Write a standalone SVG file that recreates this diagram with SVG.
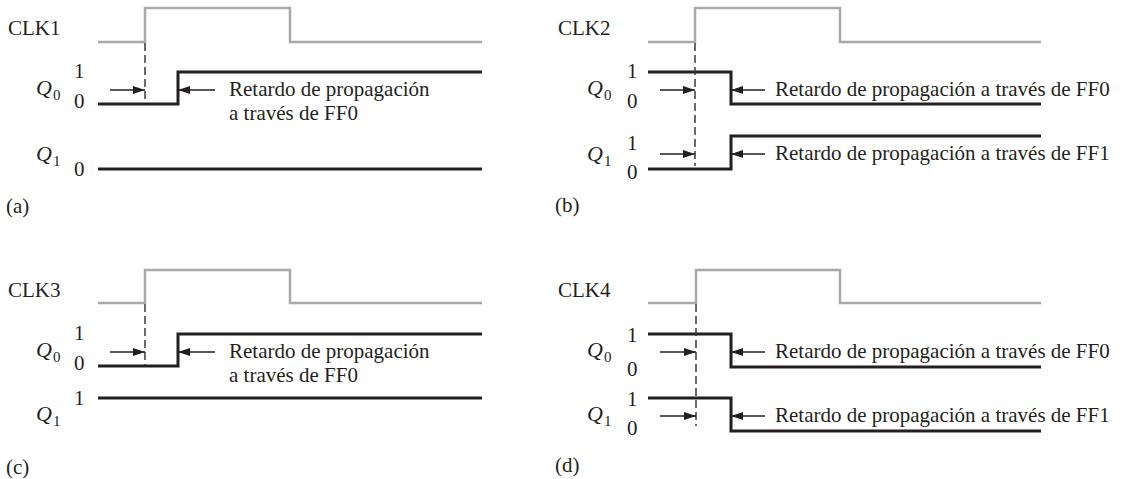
<svg xmlns="http://www.w3.org/2000/svg" width="1123" height="479" viewBox="0 0 1123 479">
<defs>
<marker id="ah" viewBox="0 0 12 8" refX="12" refY="4" markerWidth="12" markerHeight="8" markerUnits="userSpaceOnUse" orient="auto" preserveAspectRatio="none">
<path d="M0,0 L12,4 L0,8 Z" fill="#231f20"/>
</marker>
</defs>
<style>
text{font-family:"Liberation Serif","Times New Roman",serif;font-size:21px;fill:#231f20}
.q{font-style:italic;font-size:22px}
.sub{font-size:15px;font-style:normal}
.clk{fill:none;stroke:#a7a9ac;stroke-width:2.5}
.sig{fill:none;stroke:#231f20;stroke-width:3}
.dash{fill:none;stroke:#3a3a3a;stroke-width:1.5;stroke-dasharray:8 4}
.arr{fill:none;stroke:#231f20;stroke-width:1.5;marker-end:url(#ah)}
</style>
<rect width="1123" height="479" fill="#ffffff"/>

<g id="panel-a">
<text x="8" y="35">CLK1</text>
<path class="clk" d="M98,42 H145 V8 H290 V42 H482"/>
<text class="q" x="36" y="95">Q</text><text class="sub" x="53" y="100">0</text>
<text x="74" y="78">1</text><text x="74" y="108">0</text>
<path class="sig" d="M98,104 H178 V72 H482"/>
<text x="229" y="96">Retardo de propagación</text>
<text x="229" y="120">a través de FF0</text>
<text class="q" x="36" y="161">Q</text><text class="sub" x="53" y="166">1</text>
<text x="74" y="176">0</text>
<path class="sig" d="M98,169 H482"/>
<text x="6" y="213">(a)</text>
</g>

<g id="panel-b">
<text x="558" y="35">CLK2</text>
<path class="clk" d="M648,42 H695 V8 H840 V42 H1041"/>
<text class="q" x="587" y="95">Q</text><text class="sub" x="604" y="100">0</text>
<text x="627" y="78">1</text><text x="627" y="108">0</text>
<path class="sig" d="M648,72 H731 V104 H1041"/>
<text x="775" y="96">Retardo de propagación a través de FF0</text>
<text class="q" x="587" y="161">Q</text><text class="sub" x="604" y="166">1</text>
<text x="627" y="150">1</text><text x="627" y="179">0</text>
<path class="sig" d="M648,169 H731 V136 H1041"/>
<text x="775" y="160">Retardo de propagación a través de FF1</text>
<text x="555" y="212">(b)</text>
</g>

<g id="panel-c">
<text x="8" y="297">CLK3</text>
<path class="clk" d="M98,303 H145 V270 H290 V303 H482"/>
<text class="q" x="36" y="357">Q</text><text class="sub" x="53" y="362">0</text>
<text x="74" y="340">1</text><text x="74" y="370">0</text>
<path class="sig" d="M98,366 H178 V334 H482"/>
<text x="229" y="358">Retardo de propagación</text>
<text x="229" y="382">a través de FF0</text>
<text class="q" x="36" y="421">Q</text><text class="sub" x="53" y="426">1</text>
<text x="74" y="405">1</text>
<path class="sig" d="M98,398 H482"/>
<text x="6" y="474">(c)</text>
</g>

<g id="panel-d">
<text x="558" y="297">CLK4</text>
<path class="clk" d="M648,303 H696 V270 H840 V303 H1041"/>
<text class="q" x="587" y="357">Q</text><text class="sub" x="604" y="362">0</text>
<text x="627" y="342">1</text><text x="627" y="376">0</text>
<path class="sig" d="M648,334 H731 V367 H1041"/>
<text x="775" y="358">Retardo de propagación a través de FF0</text>
<text class="q" x="587" y="421">Q</text><text class="sub" x="604" y="426">1</text>
<text x="627" y="406">1</text><text x="627" y="435">0</text>
<path class="sig" d="M648,398 H731 V431 H1041"/>
<text x="775" y="422">Retardo de propagación a través de FF1</text>
<text x="555" y="472">(d)</text>
</g>

<g id="connectors">
<line class="dash" x1="145" y1="43" x2="145" y2="103"/>
<line class="arr" x1="110" y1="90" x2="145" y2="90"/>
<line class="arr" x1="215" y1="90" x2="178" y2="90"/>

<line class="dash" x1="695" y1="43" x2="695" y2="166"/>
<line class="arr" x1="660" y1="90" x2="695" y2="90"/>
<line class="arr" x1="765" y1="90" x2="731" y2="90"/>
<line class="arr" x1="660" y1="154" x2="695" y2="154"/>
<line class="arr" x1="765" y1="154" x2="731" y2="154"/>

<line class="dash" x1="145" y1="304" x2="145" y2="365"/>
<line class="arr" x1="110" y1="352" x2="145" y2="352"/>
<line class="arr" x1="215" y1="352" x2="178" y2="352"/>

<line class="dash" x1="696" y1="304" x2="696" y2="426"/>
<line class="arr" x1="660" y1="352" x2="696" y2="352"/>
<line class="arr" x1="765" y1="352" x2="731" y2="352"/>
<line class="arr" x1="660" y1="416" x2="696" y2="416"/>
<line class="arr" x1="765" y1="416" x2="731" y2="416"/>
</g>
</svg>
